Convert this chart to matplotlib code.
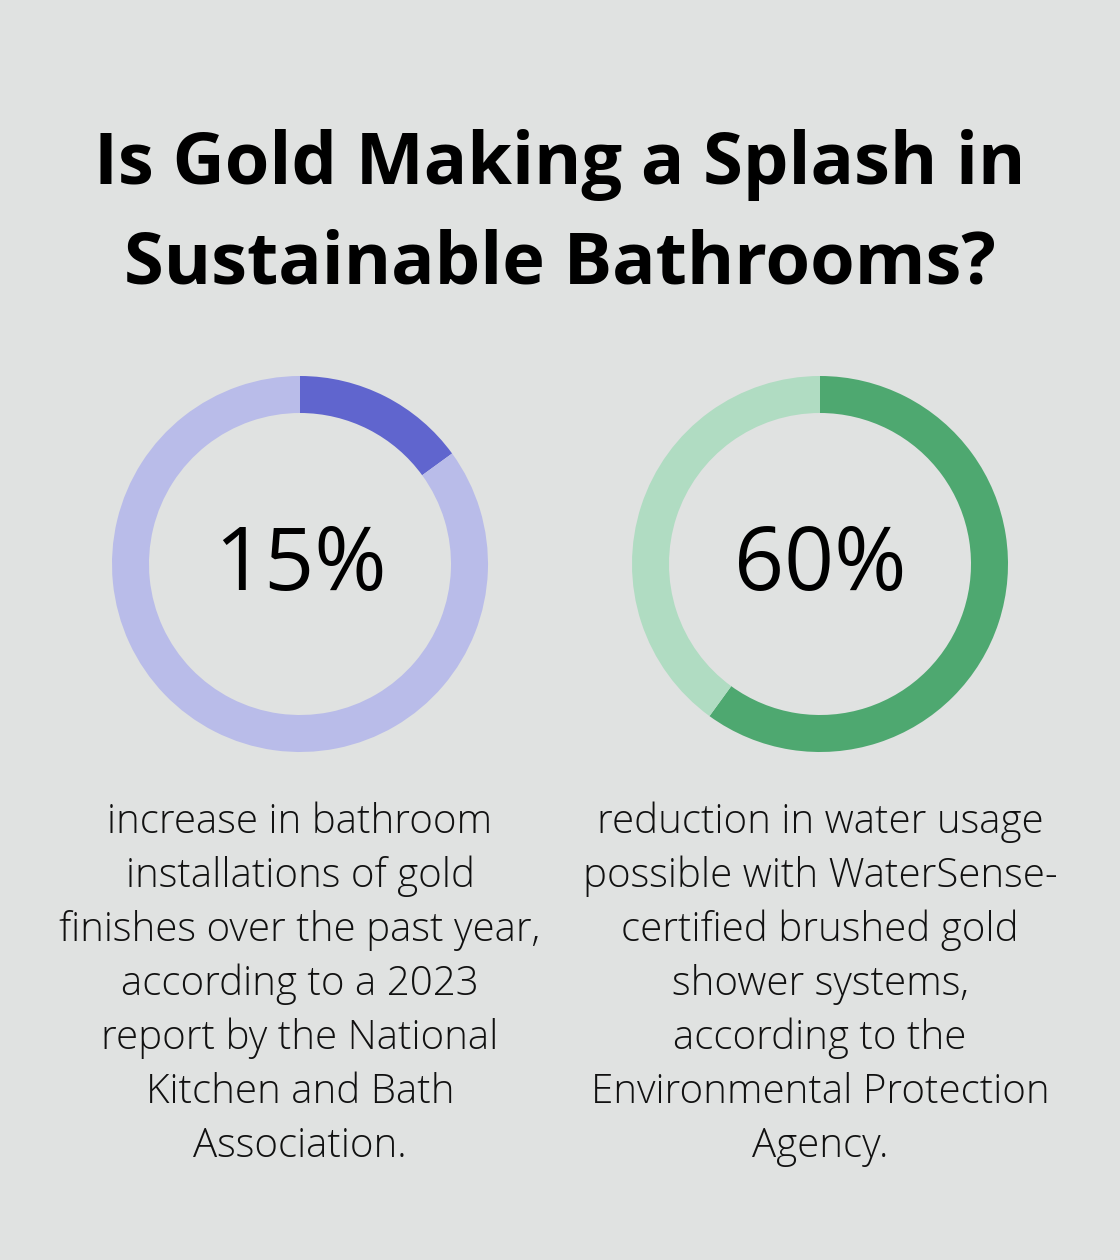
import matplotlib
matplotlib.use("Agg")
import matplotlib.pyplot as plt

W, H = 1120, 1260
DPI = 100

title_lines = ["Is Gold Making a Splash in", "Sustainable Bathrooms?"]
values = [15, 60]
labels = ["15%", "60%"]
dark_colors = ["#6065CE", "#4EA870"]
light_colors = ["#B9BCE9", "#B0DCC2"]
descriptions = [
    ["increase in bathroom", "installations of gold", "finishes over the past year,",
     "according to a 2023", "report by the National", "Kitchen and Bath", "Association."],
    ["reduction in water usage", "possible with WaterSense-", "certified brushed gold",
     "shower systems,", "according to the", "Environmental Protection", "Agency."],
]

BG = "#E0E2E1"
fam = ["Open Sans", "DejaVu Sans"]

fig = plt.figure(figsize=(W / DPI, H / DPI), dpi=DPI, facecolor=BG)
ax = fig.add_axes([0, 0, 1, 1])
ax.set_xlim(0, W)
ax.set_ylim(H, 0)
ax.axis("off")
ax.set_facecolor(BG)

# Title
for i, line in enumerate(title_lines):
    ax.text(560, 184 + 99 * i, line, ha="center", va="baseline", fontsize=51.9,
            fontweight="bold", family=fam, color="black")

centers_x = [300, 820]
cy = 564
R_out = 188
ring_w = 37

for k in range(2):
    cx = centers_x[k]
    pax = fig.add_axes([(cx - R_out) / W, (H - cy - R_out) / H, 2 * R_out / W, 2 * R_out / H])
    pax.pie([values[k], 100 - values[k]], colors=[dark_colors[k], light_colors[k]],
            startangle=90, counterclock=False, radius=1.0,
            wedgeprops=dict(width=ring_w / R_out, linewidth=0))
    pax.set_xlim(-1, 1)
    pax.set_ylim(-1, 1)
    pax.set_aspect("equal")
    pax.axis("off")
    ax.text(cx, 590, labels[k], ha="center", va="baseline", fontsize=63,
            family=fam, color="black")
    for j, line in enumerate(descriptions[k]):
        ax.text(cx, 833 + 54 * j, line, ha="center", va="baseline", fontsize=29,
                fontweight="light", family=fam, color="#111111")

fig.savefig("out.png", dpi=DPI, facecolor=BG)
